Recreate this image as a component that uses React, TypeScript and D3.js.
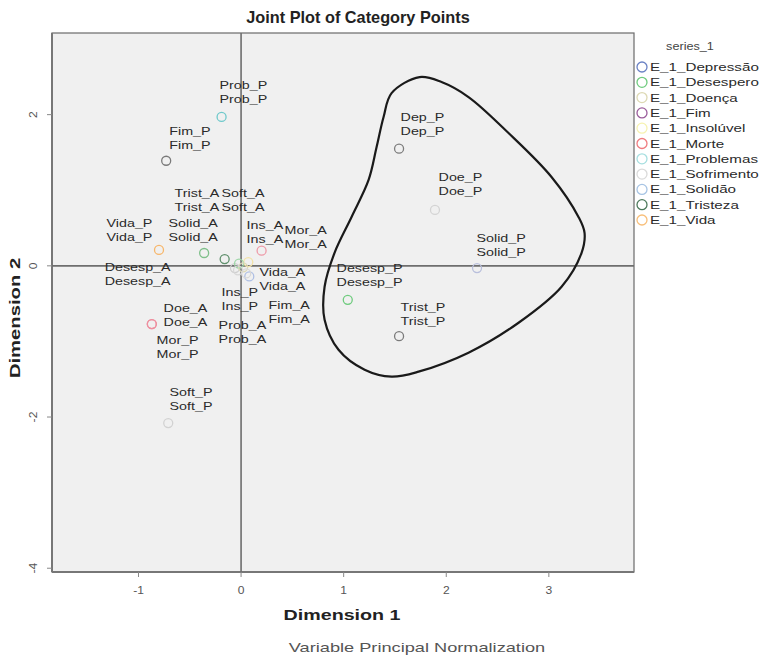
import React from "react";
import * as d3 from "d3";

// ---------- DATA ----------
const xTicks = [-1, 0, 1, 2, 3];
const yTicks = [2, 0, -2, -4];

const pointNames = [
  "Prob_P", "Fim_P", "Dep_P", "Doe_P", "Solid_P", "Desesp_P", "Trist_P",
  "Vida_P", "Solid_A", "Trist_A", "Soft_A", "Ins_A", "Mor_A", "Vida_A",
  "Desesp_A", "Ins_P", "Fim_A", "Prob_A", "Doe_A", "Mor_P", "Soft_P",
];
const pointX = [
  -0.19, -0.73, 1.54, 1.89, 2.3, 1.04, 1.54,
  -0.8, -0.36, -0.16, -0.06, 0.07, 0.2, 0.08,
  -0.02, 0.02, 0.05, -0.03, -0.87, -0.87, -0.71,
];
const pointY = [
  1.97, 1.39, 1.55, 0.74, -0.03, -0.45, -0.93,
  0.21, 0.17, 0.09, -0.03, 0.05, 0.2, -0.14,
  0.03, -0.02, -0.1, -0.06, -0.77, -0.77, -2.08,
];
const pointColor = [
  "#6fc9cb", "#7a7a7a", "#7d7d7d", "#d4d4d4", "#b9bfdc", "#6fcb7e", "#7a7a7a",
  "#f7b66a", "#7fbf8a", "#5f8f6c", "#d0d0d0", "#f3e3a8", "#ee9aa8", "#aebfe4",
  "#9fd7a8", "#dcd8b8", "#d8d8d8", "#d8d8d8", "#ee8f9f", "#ee8f9f", "#d2d2d2",
];
// label anchors (left edge, first line centre) in dimension units
const labelX = [
  -0.21, -0.7, 1.555, 1.925, 2.295, 0.931, 1.555,
  -1.311, -0.707, -0.648, -0.19, 0.054, 0.424, 0.18,
  -1.33, -0.19, 0.268, -0.219, -0.755, -0.824, -0.697,
];
const labelY = [
  2.39, 1.78, 1.97, 1.17, 0.37, -0.026, -0.54,
  0.57, 0.57, 0.96, 0.96, 0.54, 0.48, -0.08,
  -0.013, -0.343, -0.515, -0.779, -0.555, -0.978, -1.664,
];

const legendTitle = "series_1";
const legendNames = [
  "E_1_Depressão", "E_1_Desespero", "E_1_Doença", "E_1_Fim", "E_1_Insolúvel",
  "E_1_Morte", "E_1_Problemas", "E_1_Sofrimento", "E_1_Solidão", "E_1_Tristeza", "E_1_Vida",
];
const legendColors = [
  "#6b82c4", "#6fcb7e", "#ddd9b4", "#9a5c9b", "#f6f2b0",
  "#ef7c80", "#a6dfe0", "#dadada", "#a7c4e4", "#4d7a5c", "#f8bf7a",
];

// closed contour around the right-hand group, dimension units
const blobX = [1.74, 1.467, 1.389, 1.321, 1.243, 1.077, 0.911, 0.814, 0.814, 0.95, 1.204, 1.467, 1.73, 2.217, 2.705, 3.124, 3.319, 3.348, 3.289, 3.026, 2.607, 2.217, 1.954];
const blobY = [2.497, 2.285, 1.968, 1.572, 1.136, 0.647, 0.172, -0.277, -0.713, -1.11, -1.374, -1.466, -1.4, -1.149, -0.753, -0.277, 0.172, 0.436, 0.647, 1.176, 1.757, 2.233, 2.431];

// ---------- CHART ----------
const W = 782;
const H = 663;
const L = 52, R = 634, T = 33, B = 572;
const FONT = "'Liberation Sans', Arial, sans-serif";

type STProps = {
  x: number;
  y: number;
  sx?: number;
  rot?: number;
  anchor?: "start" | "middle" | "end";
  size: number;
  weight?: string;
  fill?: string;
  children: React.ReactNode;
};

function SText({ x, y, sx = 1, rot = 0, anchor = "start", size, weight = "normal", fill = "#2a2a2a", children }: STProps) {
  return (
    <text
      transform={`translate(${x},${y}) rotate(${rot}) scale(${sx},1)`}
      textAnchor={anchor}
      fontSize={size}
      fontWeight={weight}
      fill={fill}
    >
      {children}
    </text>
  );
}

export default function App() {
  const x = d3.scaleLinear().domain([-1.843, 3.83]).range([L, R]);
  const y = d3.scaleLinear().domain([-4.05, 3.08]).range([B, T]);

  const blob = d3
    .line<number>()
    .x((i) => x(blobX[i]))
    .y((i) => y(blobY[i]))
    .curve(d3.curveCatmullRomClosed.alpha(0.5))(blobX.map((_, i) => i));

  return (
    <svg
      width={W}
      height={H}
      style={{ position: "absolute", left: 0, top: 0, background: "#fff" }}
      fontFamily={FONT}
    >
      <SText x={358} y={23} anchor="middle" size={16.3} weight="bold" fill="#222">
        Joint Plot of Category Points
      </SText>

      <rect x={L} y={T} width={R - L} height={B - T} fill="#f0f0f0" stroke="#6a6a6a" strokeWidth={1.2} />
      <line x1={L} x2={L} y1={T} y2={B} stroke="#777" strokeWidth={2} />
      <line x1={L} x2={R} y1={B} y2={B} stroke="#777" strokeWidth={2} />

      {/* reference lines */}
      <line x1={x(0)} x2={x(0)} y1={T} y2={B} stroke="#6e6e6e" strokeWidth={1.6} />
      <line x1={L} x2={R} y1={y(0)} y2={y(0)} stroke="#6e6e6e" strokeWidth={1.6} />

      {/* x ticks */}
      {xTicks.map((t) => (
        <g key={"xt" + t}>
          <line x1={x(t)} x2={x(t)} y1={B} y2={B + 5} stroke="#888" />
          <SText x={x(t)} y={B + 22} anchor="middle" size={10.5} sx={1.15} fill="#555">
            {t}
          </SText>
        </g>
      ))}
      {/* y ticks */}
      {yTicks.map((t) => (
        <g key={"yt" + t}>
          <line x1={L - 5} x2={L} y1={y(t)} y2={y(t)} stroke="#888" />
          <SText x={L - 15} y={y(t)} rot={-90} anchor="middle" size={10.5} sx={1.15} fill="#555">
            {t}
          </SText>
        </g>
      ))}

      <SText x={342} y={620} anchor="middle" size={15} sx={1.31} weight="bold" fill="#222">
        Dimension 1
      </SText>
      <SText x={20} y={318} rot={-90} anchor="middle" size={15} sx={1.35} weight="bold" fill="#222">
        Dimension 2
      </SText>
      <SText x={417} y={652} anchor="middle" size={13} sx={1.4} fill="#555">
        Variable Principal Normalization
      </SText>

      {/* contour */}
      <path d={blob ?? ""} fill="none" stroke="#1a1a1a" strokeWidth={2.2} />

      {/* points */}
      {pointNames.map((n, i) => (
        <circle
          key={"p" + n}
          cx={x(pointX[i])}
          cy={y(pointY[i])}
          r={4.5}
          fill="none"
          stroke={pointColor[i]}
          strokeWidth={1.3}
        />
      ))}
      {/* labels (each drawn twice, as in the source) */}
      {pointNames.map((n, i) => (
        <g key={"l" + n}>
          <SText x={x(labelX[i])} y={y(labelY[i]) + 4} size={11} sx={1.3}>{n}</SText>
          <SText x={x(labelX[i])} y={y(labelY[i]) + 18} size={11} sx={1.3}>{n}</SText>
        </g>
      ))}

      {/* legend */}
      <SText x={690} y={50} anchor="middle" size={11} sx={1.15} fill="#444">
        {legendTitle}
      </SText>
      {legendNames.map((n, i) => (
        <g key={"lg" + n}>
          <circle cx={642} cy={67 + i * 15.3} r={5} fill="none" stroke={legendColors[i]} strokeWidth={1.3} />
          <SText x={650} y={71 + i * 15.3} size={11} sx={1.38}>
            {n}
          </SText>
        </g>
      ))}
    </svg>
  );
}
